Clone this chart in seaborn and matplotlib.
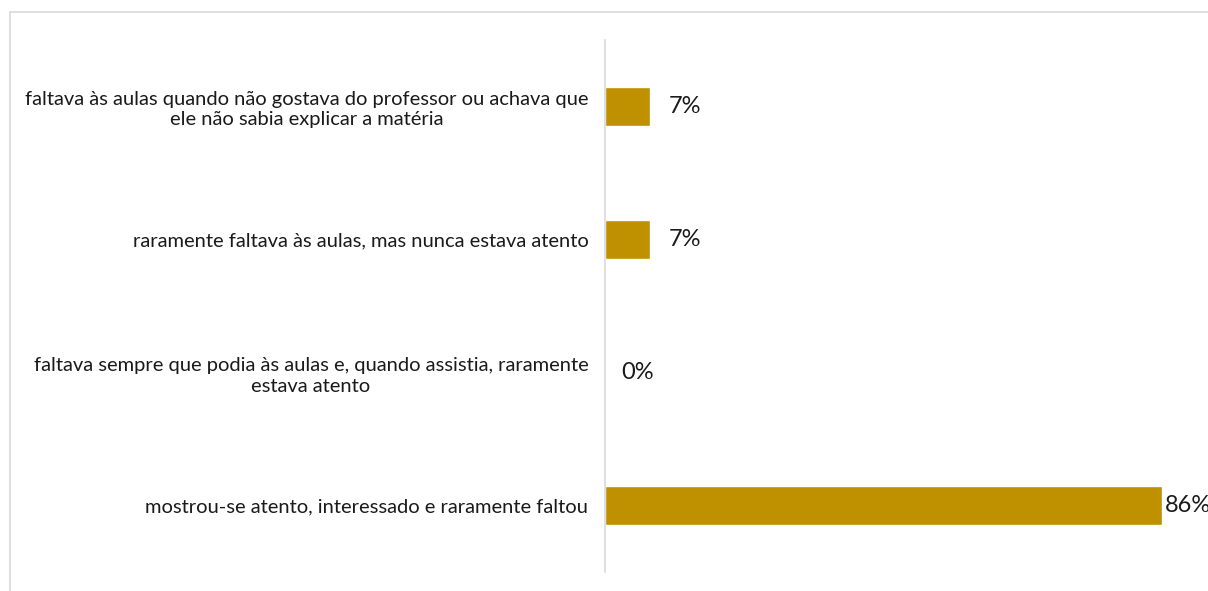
import numpy as np
import pandas as pd
import matplotlib.pyplot as plt
import matplotlib.patches as patches
import seaborn as sns

# dados
categorias = [
    "faltava às aulas quando não gostava do professor ou achava que\nele não sabia explicar a matéria",
    "raramente faltava às aulas, mas nunca estava atento",
    "faltava sempre que podia às aulas e, quando assistia, raramente\nestava atento",
    "mostrou-se atento, interessado e raramente faltou",
]
valores = [7, 7, 0, 86]
rotulos = ["7%", "7%", "0%", "86%"]

df = pd.DataFrame({"cat": categorias, "val": valores})

sns.set_style("white")
plt.rcParams['font.family'] = ['Lato', 'DejaVu Sans']

fig = plt.figure(figsize=(12.08, 5.91), dpi=100)
ax = fig.add_axes([605 / 1208, 19 / 591, 603 / 1208, 532 / 591])

sns.barplot(data=df, x="val", y="cat", color="#BF9000", saturation=1,
            width=0.29, ax=ax, orient="h")

ax.set_xlim(0, 603 / 6.477)
ax.set_ylim(3.5, -0.5)
ax.set_xlabel("")
ax.set_ylabel("")
ax.set_xticks([])
for s in ["top", "right", "bottom"]:
    ax.spines[s].set_visible(False)
ax.spines["left"].set_color("#D9D9D9")
ax.spines["left"].set_linewidth(1.2)
ax.tick_params(axis="y", length=0, pad=12)
for lab in ax.get_yticklabels():
    lab.set_fontsize(14.5)
    lab.set_color("#1a1a1a")
    lab.set_multialignment("center")
    lab.set_linespacing(1.25)

# rótulos de valor
pads = [13, 13, 12, 2]
for i, (v, r) in enumerate(zip(valores, rotulos)):
    ax.annotate(r, xy=(v, i), xytext=(pads[i], 0), textcoords="offset points",
                va="center", ha="left", fontsize=17, color="#1a1a1a",
                annotation_clip=False)

# moldura do gráfico
fig.patches.append(patches.Rectangle((10 / 1208, -0.02), 1.0, 1 - 12 / 591 + 0.02,
                                     transform=fig.transFigure, fill=False,
                                     edgecolor="#D9D9D9", linewidth=1.2))

fig.savefig("out.png", dpi=100)
